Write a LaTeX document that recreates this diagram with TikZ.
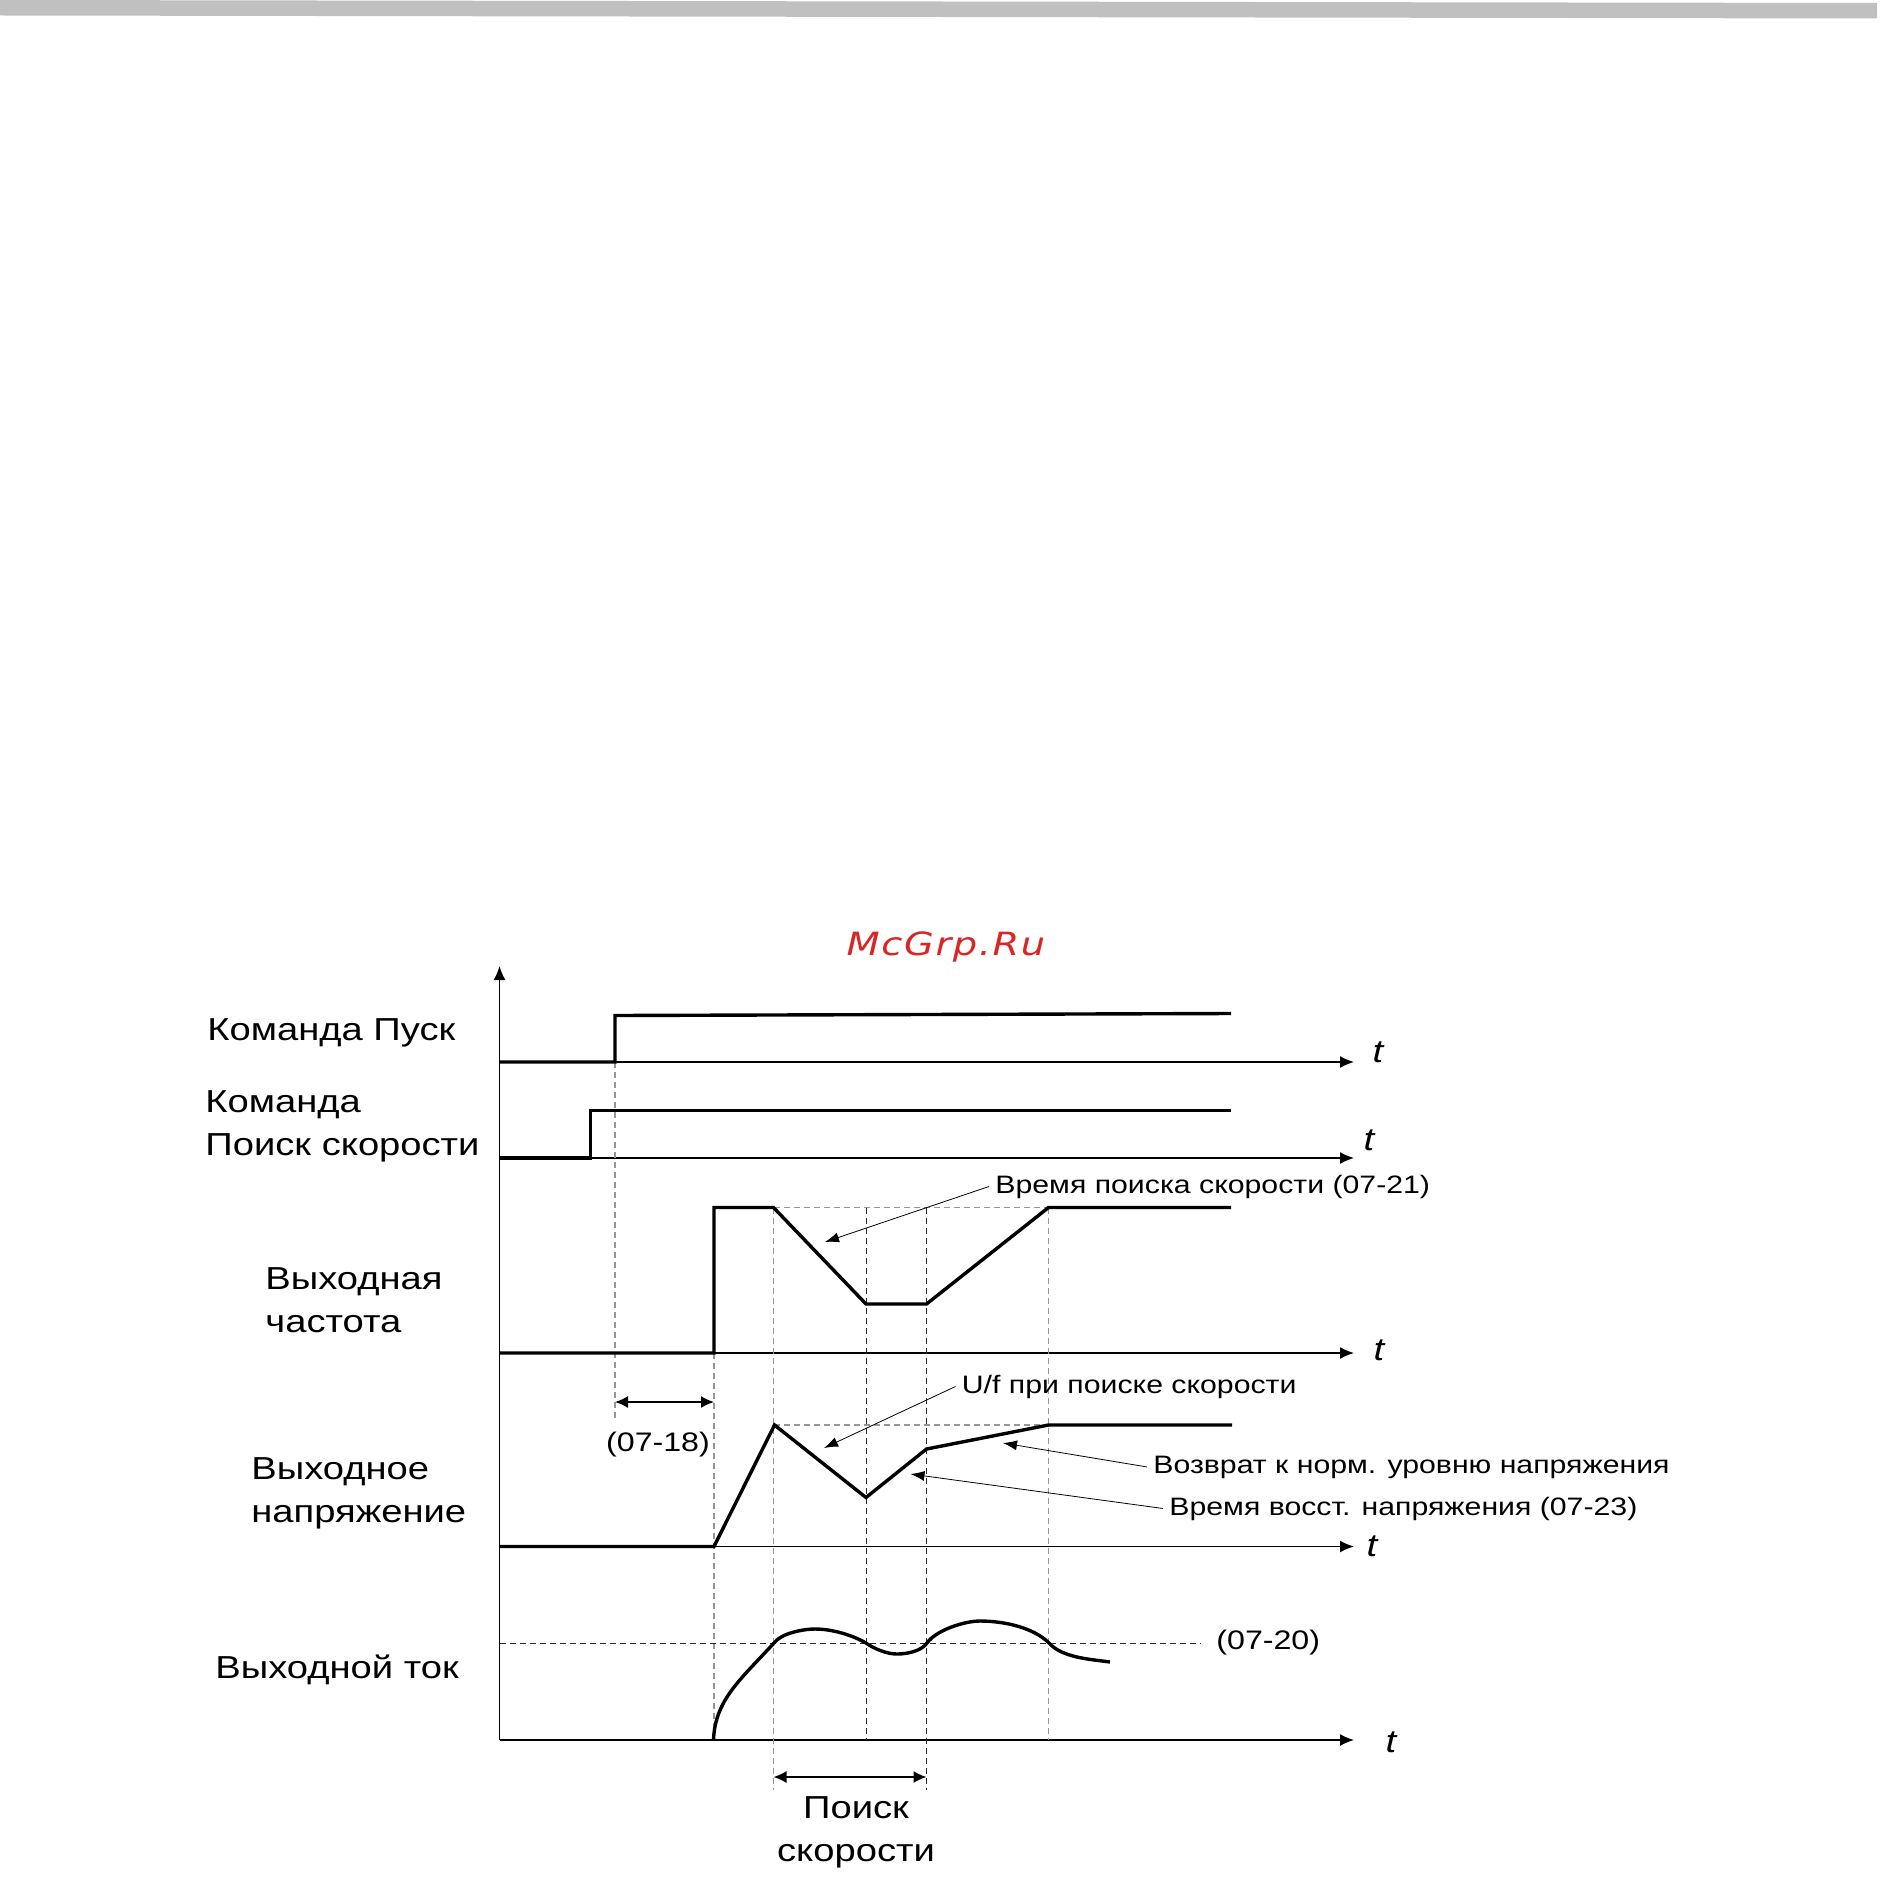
\documentclass[tikz,border=0pt]{standalone}
\usepackage{fontspec}
\setmainfont[FakeStretch=1.2]{Liberation Sans}
\newfontfamily\markfont[LetterSpace=5,FakeStretch=1.2]{DejaVu Sans}
\usetikzlibrary{arrows.meta,positioning,calc}
\definecolor{barcol}{RGB}{192,192,192}
\definecolor{markcol}{RGB}{218,37,37}
\definecolor{guidecol}{RGB}{150,150,150}
\definecolor{guidedark}{RGB}{40,40,40}

\begin{document}
\begin{tikzpicture}[x=0.5pt, y=-0.5pt,
    >={Latex[length=7pt,width=6pt]},
    axis/.style={line width=0.75pt, ->},
    signal/.style={line width=1.7pt},
    guide/.style={guidecol, line width=0.55pt, dash pattern=on 3pt off 2pt},
    guidek/.style={guidedark, line width=0.5pt, dash pattern=on 3pt off 2pt},
    rowlabel/.style={font=\fontsize{15.9}{21.5}\selectfont, align=left, inner sep=0pt, anchor=base west},
    note/.style={font=\fontsize{12.6}{15}\selectfont, inner sep=3pt, anchor=base west},
    param/.style={font=\fontsize{13.4}{15}\selectfont, inner sep=0pt},
    tlabel/.style={font=\fontsize{16}{18}\selectfont\itshape, inner sep=0pt},
    leader/.style={line width=0.4pt, -{Latex[length=7pt,width=5pt]}},
    dimline/.style={line width=0.8pt, {Latex[length=6.5pt,width=6pt]}-{Latex[length=6.5pt,width=6pt]}},
]
\useasboundingbox (0,0) rectangle (1879,1888);
\fill[barcol] (0,0) -- (1877,3) -- (1877,18.5) -- (0,15.5) -- cycle;
\node[text=markcol, font=\markfont\itshape\fontsize{16}{18}\selectfont, inner sep=0pt, anchor=base] (mark) at (946,955) {McGrp.Ru};

% axes
\draw[axis] (499.5,1740) -- (499.5,966);
\draw[axis] (499.5,1062) -- (1354,1062);
\draw[axis] (499.5,1158) -- (1354,1158);
\draw[axis] (499.5,1353) -- (1354,1353);
\draw[axis] (499.5,1546.5) -- (1354,1546.5);
\draw[axis] (499.5,1740) -- (1354,1740);
\node[tlabel] (trun) at (1378,1052) {t};
\node[tlabel] (tsearch) at (1369,1140) {t};
\node[tlabel] (tfreq) at (1379,1350) {t};
\node[tlabel] (tvolt) at (1372,1546) {t};
\node[tlabel] (tcurr) at (1391,1742) {t};

% guides
\draw[guide] (615,1062) -- (615,1420);
\draw[guide] (714,1353) -- (714,1740);
\draw[guide] (773.5,1207.5) -- (773.5,1790);
\draw[guidek] (866,1207.5) -- (866,1740);
\draw[guidek] (926.5,1207.5) -- (926.5,1790);
\draw[guide] (1048.5,1207.5) -- (1048.5,1740);
\draw[guide] (773.5,1207.5) -- (1048.5,1207.5);
\draw[guide] (773.5,1425) -- (1048.5,1425);
\draw[guidek] (499.5,1643) -- (1201,1643);

% signals
\draw[signal] (499.5,1062) -- (615,1062) -- (615,1015.5) -- (1231,1013.5);
\draw[signal] (499.5,1158) -- (590.5,1158) -- (590.5,1110.5) -- (1231,1110.5);
\draw[signal] (499.5,1353) -- (714,1353) -- (714,1207.5) -- (773.5,1207.5) -- (866,1304) -- (926.5,1304) -- (1048.5,1207.5) -- (1231,1207.5);
\draw[signal] (499.5,1546.5) -- (714,1546.5) -- (774.5,1425) -- (866,1497.5) -- (926.5,1449) -- (1048.5,1425) -- (1232,1425);
\draw[signal] (713.5,1740) .. controls (715,1700) and (740,1680) .. (774,1643)
    to[out=55,in=180,looseness=0.7] (815,1629) to[out=0,in=150,looseness=0.8] (866,1643)
    to[out=-35,in=180,looseness=0.8] (897,1654) to[out=0,in=-125,looseness=0.8] (927,1643)
    to[out=55,in=180,looseness=0.7] (980,1621) to[out=0,in=135,looseness=0.8] (1049,1643)
    to[out=-48,in=172,looseness=0.8] (1110,1662);

% row labels
\node[rowlabel] (runlbl) at (207,1040) {Команда Пуск};
\node[rowlabel] (searchlbl) at (205,1155) {Команда\\Поиск скорости};
\node[rowlabel] (freqlbl) at (265,1332) {Выходная\\частота};
\node[rowlabel] (voltlbl) at (251,1522) {Выходное\\напряжение};
\node[rowlabel] (currlbl) at (215,1678) {Выходной ток};

% spans
\coordinate (delaya) at (615,1402);
\coordinate (delayb) at (714,1402);
\draw[dimline] (delaya) -- (delayb);
\node[param] (delaylbl) at (658,1445) {(07-18)};
\coordinate (searcha) at (773.5,1777);
\coordinate (searchb) at (926.5,1777);
\draw[dimline] (searcha) -- (searchb);
\node[rowlabel, align=center, anchor=base] (searchspan) at (856,1861) {Поиск\\скорости};
\node[param, anchor=west] (limitlbl) at (1216,1643) {(07-20)};

% notes
\coordinate (tiptime) at (825,1242);
\coordinate (tipvf) at (824,1448);
\coordinate (tipback) at (1003,1443);
\coordinate (tiprecov) at (910.5,1474);
\node[note] (notetime) at (989,1193) {Время поиска скорости (07-21)};
\node[note] (notevf) at (955.5,1393) {U/f при поиске скорости};
\node[note] (noteback) at (1147,1473) {Возврат к норм. уровню напряжения};
\node[note] (noterecov) at (1163,1515) {Время восст. напряжения (07-23)};
\draw[leader] (notetime.west) -- (tiptime);
\draw[leader] (notevf.west) -- (tipvf);
\draw[leader] (noteback.west) -- (tipback);
\draw[leader] (noterecov.west) -- (tiprecov);
\end{tikzpicture}
\end{document}
